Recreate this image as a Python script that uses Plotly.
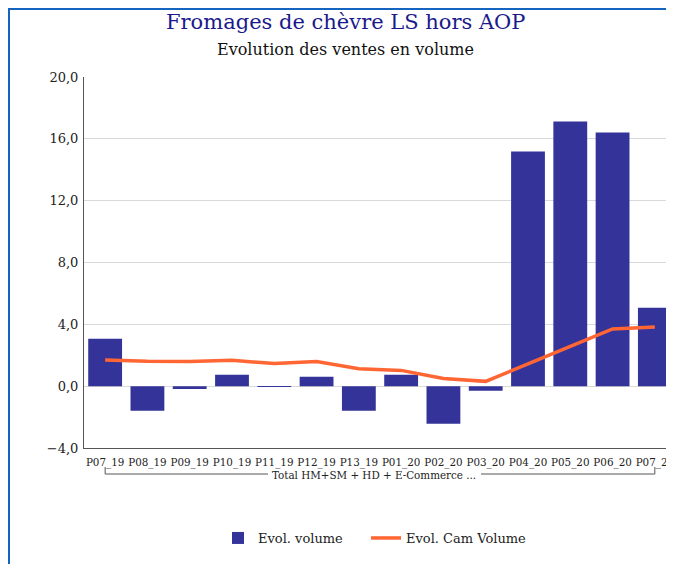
import plotly.graph_objects as go

categories = ["P07_19", "P08_19", "P09_19", "P10_19", "P11_19", "P12_19", "P13_19",
              "P01_20", "P02_20", "P03_20", "P04_20", "P05_20", "P06_20", "P07_20"]
evol_volume = [3.07, -1.59, -0.19, 0.74, -0.05, 0.61, -1.59, 0.74, -2.43, -0.29,
               15.18, 17.12, 16.41, 5.08]
evol_cam_volume = [1.70, 1.61, 1.60, 1.67, 1.46, 1.59, 1.13, 1.02, 0.50, 0.31,
                   1.44, 2.59, 3.70, 3.83]
y_tickvals = [-4, 0, 4, 8, 12, 16, 20]
group_label = "Total HM+SM + HD + E-Commerce ..."
title_text = "Fromages de chèvre LS hors AOP"
subtitle_text = "Evolution des ventes en volume"

W, H = 674, 564
OFF = 8  # page body margin
ML, MR, MT, MB = 76, 6, 69, 124
PW, PH = W - ML - MR, H - MT - MB
XR = [-0.5, 13.5]
FONT = "DejaVu Serif"
CFONT = "DejaVu Serif Condensed, DejaVu Serif"


def px_x(px):  # page pixel -> paper
    return (px - OFF - ML) / PW


def px_y(py):
    return (H - MB - (py - OFF)) / PH


def cat_x(i):
    return (i - XR[0]) / (XR[1] - XR[0])


fig = go.Figure()
fig.add_trace(go.Bar(x=categories, y=evol_volume, name="Evol. volume",
                     marker=dict(color="#333399", line=dict(width=0)),
                     legend="legend"))
fig.add_trace(go.Scatter(x=categories, y=evol_cam_volume, name="Evol. Cam Volume",
                         mode="lines", line=dict(color="#FF6633", width=3.5),
                         legend="legend2"))

x0 = cat_x(0)
x1 = cat_x(len(categories) - 1)
yt, yb = px_y(467), px_y(474)
gap_l, gap_r = px_x(268), px_x(481)

legend_font = dict(family=FONT, size=13, color="#222222")

fig.update_layout(
    width=W, height=H,
    margin=dict(l=ML, r=MR, t=MT, b=MB, autoexpand=False),
    paper_bgcolor="white", plot_bgcolor="white",
    separators=", ",
    bargap=0.2,
    font=dict(family=FONT, color="#222222"),
    showlegend=True,
    legend=dict(orientation="h", x=px_x(218), xanchor="left", y=px_y(538), yanchor="middle",
                font=legend_font, itemwidth=30, bgcolor="rgba(0,0,0,0)"),
    legend2=dict(orientation="h", x=px_x(366), xanchor="left", y=px_y(538), yanchor="middle",
                 font=legend_font, itemwidth=30, bgcolor="rgba(0,0,0,0)"),
    xaxis=dict(type="category", range=XR, showgrid=False, showline=True,
               linecolor="#555555", linewidth=1, ticks="", tickangle=0,
               ticklabelstandoff=3,
               tickfont=dict(family=CFONT, size=11.5, color="#222222"), fixedrange=True),
    yaxis=dict(range=[-4, 20], tickvals=y_tickvals, tickformat=".1f",
               showgrid=True, gridcolor="#d9d9d9", gridwidth=1,
               zeroline=True, zerolinecolor="#d9d9d9", zerolinewidth=1,
               showline=True, linecolor="#555555", linewidth=1, ticks="",
               ticklabelstandoff=2,
               tickfont=dict(family=FONT, size=13, color="#222222")),
    shapes=[
        dict(type="path", xref="paper", yref="paper",
             path=f"M {x0} {yt} L {x0} {yb} L {gap_l} {yb}",
             line=dict(color="#555555", width=1)),
        dict(type="path", xref="paper", yref="paper",
             path=f"M {gap_r} {yb} L {x1} {yb} L {x1} {yt}",
             line=dict(color="#555555", width=1)),
        dict(type="rect", xref="paper", yref="paper",
             x0=px_x(9), x1=px_x(700), y0=px_y(9), y1=px_y(620),
             line=dict(color="#1565c0", width=2), fillcolor="rgba(0,0,0,0)"),
    ],
    annotations=[
        dict(text=title_text, xref="paper", yref="paper", x=px_x(345.5), y=px_y(22),
             xanchor="center", yanchor="middle", showarrow=False,
             font=dict(family=FONT, size=21, color="#1a1a8c")),
        dict(text=subtitle_text, xref="paper", yref="paper", x=px_x(345), y=px_y(50),
             xanchor="center", yanchor="middle", showarrow=False,
             font=dict(family=FONT, size=16, color="#111111")),
        dict(text=group_label, xref="paper", yref="paper", x=px_x(374), y=px_y(475),
             xanchor="center", yanchor="middle", showarrow=False,
             borderpad=0, font=dict(family=CFONT, size=11.5, color="#222222")),
    ],
)

fig.write_html("out.html")
